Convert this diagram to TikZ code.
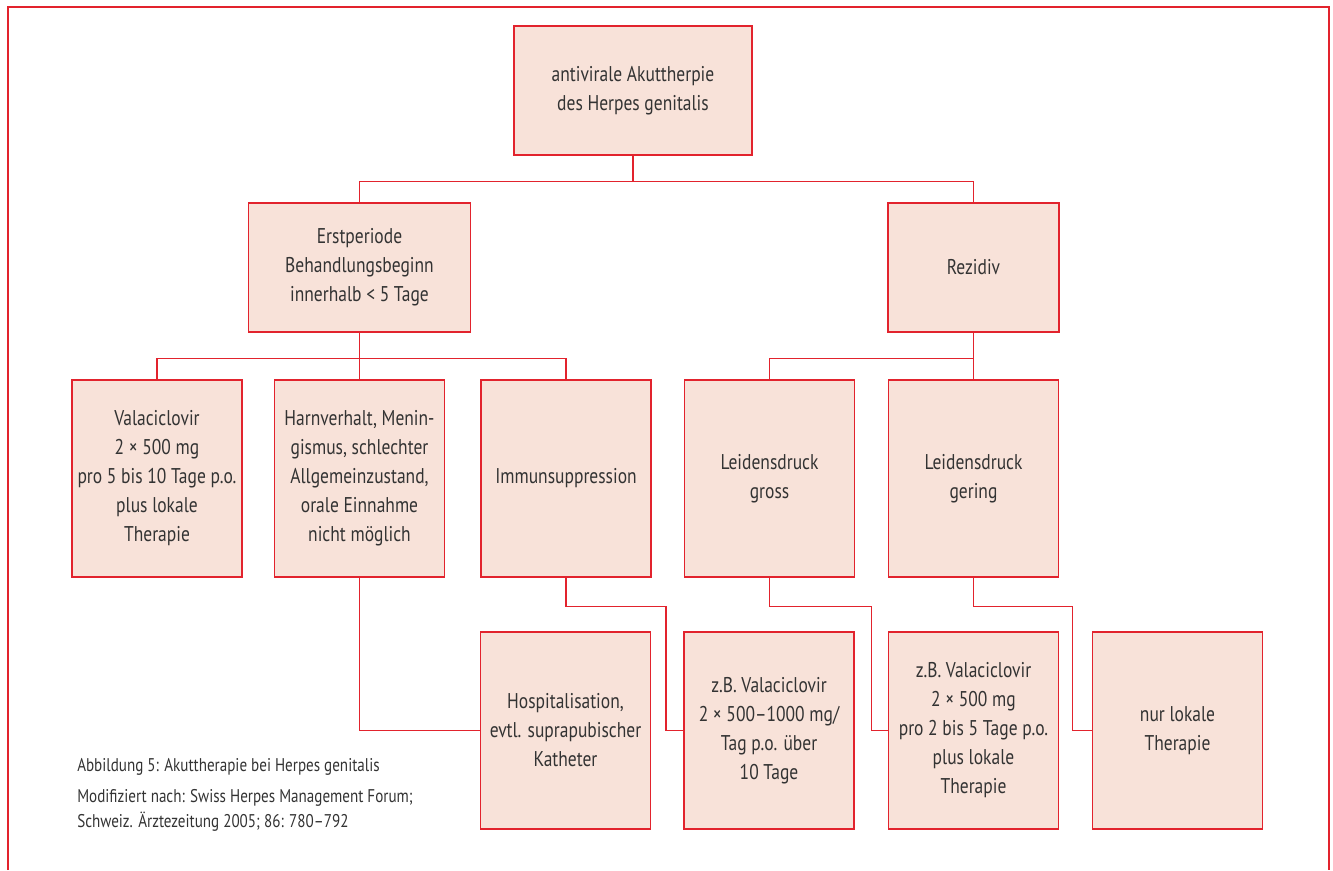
\documentclass[tikz,border=0pt]{standalone}
\usepackage{fontspec}
\setmainfont{PT Sans}[FakeStretch=0.82]
\usetikzlibrary{calc}
\definecolor{boxred}{HTML}{E2232D}
\definecolor{boxfill}{HTML}{F8E2D9}
\definecolor{txtgray}{HTML}{333333}
\tikzset{
  box/.style={draw=boxred, line width=1.1pt, fill=boxfill, rectangle, align=center,
    text=txtgray, font=\fontsize{16}{21.75}\selectfont, inner sep=2pt},
  wide/.style={minimum width=170*0.75pt, minimum height=197*0.75pt},
  link/.style={draw=boxred, line width=1pt},
  caption/.style={anchor=west, align=left, text=txtgray, inner sep=0pt,
    font=\fontsize{13.8}{18.75}\selectfont}
}
\begin{document}
\begin{tikzpicture}[x=0.75pt, y=-0.75pt]
	\useasboundingbox (0, 0) rectangle (1333, 870);
	\draw[link] (8, 870) -- (8, 7) -- (1329, 7) -- (1329, 870);
	\node[box, minimum width=238*0.75pt, minimum height=129*0.75pt] (top)at(633, 90.5) {antivirale Akuttherpie\\des Herpes genitalis};
	\node[box, minimum width=222*0.75pt, minimum height=129*0.75pt] (erst)at(359.5, 267.5) {Erstperiode\\Behandlungsbeginn\\innerhalb < 5 Tage};
	\node[box, minimum width=171*0.75pt, minimum height=129*0.75pt] (rez)at(973.5, 267.5) {Rezidiv};
	\node[box, wide] (vala)at(157, 478.5) {Valaciclovir\\2 × 500 mg\\pro 5 bis 10 Tage p.o.\\plus lokale\\Therapie};
	\node[box, wide] (harn)at(359.5, 478.5) {Harnverhalt, Menin-\\gismus, schlechter\\Allgemeinzustand,\\orale Einnahme\\nicht möglich};
	\node[box, wide] (immun)at(566, 478.5) {Immunsuppression};
	\node[box, wide] (gross)at(769.5, 478.5) {Leidensdruck\\gross};
	\node[box, wide] (gering)at(973.5, 478.5) {Leidensdruck\\gering};
	\node[box, wide] (hosp)at(565.5, 730.5) {Hospitalisation,\\evtl. suprapubischer\\Katheter};
	\node[box, wide] (zbA)at(769, 730.5) {z.B. Valaciclovir\\2 × 500–1000 mg/\\Tag p.o. über\\10 Tage};
	\node[box, wide] (zbB)at(973.5, 730.5) {z.B. Valaciclovir\\2 × 500 mg\\pro 2 bis 5 Tage p.o.\\plus lokale\\Therapie};
	\node[box, wide] (lokal)at(1177.5, 730.5) {nur lokale\\Therapie};
	\draw[link] (top.south) -- ++(0, 26) -| (erst.north);
	\draw[link] (top.south) -- ++(0, 26) -| (rez.north);
	\draw[link] (erst.south) -- ++(0, 26) -| (vala.north);
	\draw[link] (erst.south) -- (harn.north);
	\draw[link] (erst.south) -- ++(0, 26) -| (immun.north);
	\draw[link] (rez.south) -- ++(0, 26) -| (gross.north);
	\draw[link] (rez.south) -- (gering.north);
	\draw[link] (harn.south) |- (hosp.west);
	\draw[link] (immun.south) |- ++(100, 29) |- (zbA.west);
	\draw[link] (gross.south) |- ++(102, 29) |- (zbB.west);
	\draw[link] (gering.south) |- ++(99, 29) |- (lokal.west);
	\node[caption] (capA)at(77, 767) {Abbildung 5: Akuttherapie bei Herpes genitalis};
	\node[caption] (capB)at(77, 810.5) {Modifiziert nach: Swiss Herpes Management Forum;\\Schweiz. Ärztezeitung 2005; 86: 780–792};
\end{tikzpicture}
\end{document}
